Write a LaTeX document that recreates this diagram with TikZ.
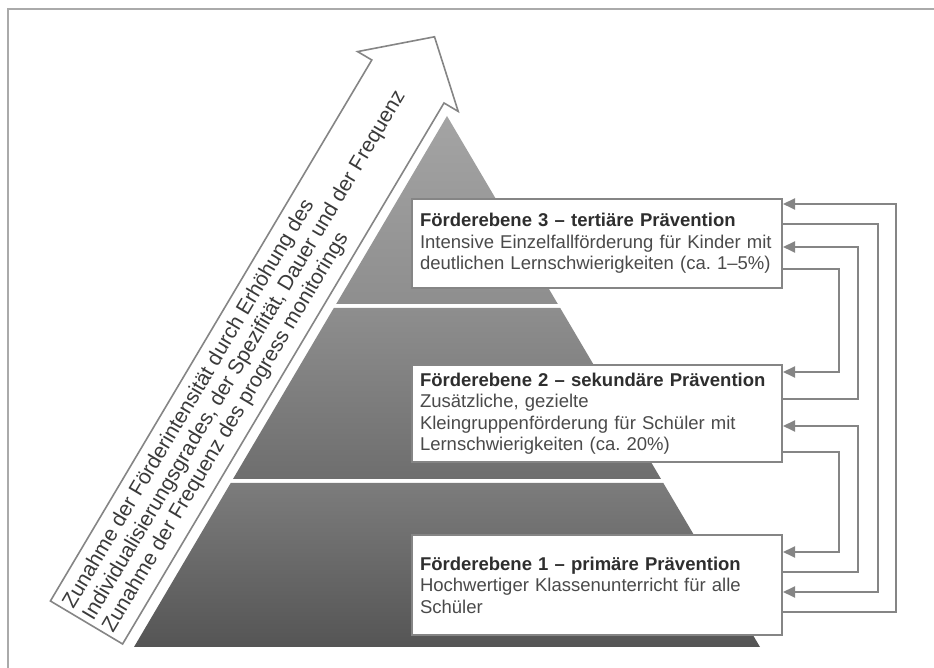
\documentclass[tikz,border=0pt]{standalone}
\usepackage{fontspec}
\setmainfont{Liberation Sans}
\usetikzlibrary{arrows.meta,calc}
\frenchspacing
\definecolor{linegray}{HTML}{858585}
\definecolor{framegray}{HTML}{AAAAAA}
\definecolor{titlegray}{HTML}{2E2E2E}
\definecolor{bodygray}{HTML}{4A4A4A}
\definecolor{arrowtext}{HTML}{3A3A3A}
\definecolor{tthreea}{HTML}{A4A4A4}
\definecolor{tthreeb}{HTML}{8E8E8E}
\definecolor{ttwoa}{HTML}{8E8E8E}
\definecolor{ttwob}{HTML}{6E6E6E}
\definecolor{tonea}{HTML}{7C7C7C}
\definecolor{toneb}{HTML}{555555}
\begin{document}
\begin{tikzpicture}[x=1bp,y=1bp,
  box/.style={draw=linegray, line width=2bp, fill=white, text width=354bp,
    inner xsep=8bp, inner ysep=0pt, align=left, text=bodygray,
    font=\fontsize{18.5bp}{21.5bp}\selectfont},
  conn/.style={draw=linegray, line width=2bp, -{Triangle[length=12bp,width=11bp]}},
]
\useasboundingbox (0,0) rectangle (934,668);
% frame
\draw[framegray, line width=2bp] (8,0) -- (8,659) -- (934,659);
% pyramid tiers
\shade[top color=tthreea, bottom color=tthreeb] (447,552) -- (557.8,364) -- (336.2,364) -- cycle;
\shade[top color=ttwoa, bottom color=ttwob] (333.8,360) -- (560.2,360) -- (661,189) -- (233,189) -- cycle;
\shade[top color=tonea, bottom color=toneb] (230.7,185) -- (663.3,185) -- (760,21) -- (134,21) -- cycle;
% big arrow
\draw[draw=linegray, line width=1.6bp, fill=white, line join=miter]
  (50.4,67) -- (122.6,24) -- (444,565) -- (458.2,556.6) -- (434.5,631.2)
  -- (357.6,616.4) -- (371.8,608) -- cycle;
\node[rotate=59.3, anchor=west, align=left, inner sep=0pt, text=arrowtext,
  font=\fontsize{21bp}{23bp}\selectfont] (atext) at (88.5,49)
  {Zunahme der Förderintensität durch Erhöhung des\\
   Individualisierungsgrades, der Spezifität, Dauer und der Frequenz\\
   Zunahme der Frequenz des progress monitorings};
% boxes
\node[box, minimum height=89bp] (b3) at (597,424.5)
  {{\bfseries\color{titlegray}Förderebene 3 – tertiäre Prävention}\\
   Intensive Einzelfallförderung für Kinder mit\\
   deutlichen Lernschwierigkeiten (ca. 1–5\%)};
\node[box, minimum height=97bp] (b2) at (597,254.5)
  {{\bfseries\color{titlegray}Förderebene 2 – sekundäre Prävention}\\
   Zusätzliche, gezielte\\
   Kleingruppenförderung für Schüler mit\\
   Lernschwierigkeiten (ca. 20\%)};
\node[box, minimum height=100bp] (b1) at (597,83)
  {{\bfseries\color{titlegray}Förderebene 1 – primäre Prävention}\\
   Hochwertiger Klassenunterricht für alle\\
   Schüler};
% connectors
\draw[conn] ($(b3.north east)+(0,-26)$) -- ++(95,0) |- ($(b1.north east)+(0,-58)$);
\draw[conn] ($(b3.north east)+(0,-71)$) -- ++(56,0) |- ($(b2.north east)+(0,-8)$);
\draw[conn] ($(b2.north east)+(0,-35)$) -- ++(75,0) |- ($(b3.north east)+(0,-49)$);
\draw[conn] ($(b2.north east)+(0,-88)$) -- ++(56,0) |- ($(b1.north east)+(0,-18)$);
\draw[conn] ($(b1.north east)+(0,-38)$) -- ++(75,0) |- ($(b2.north east)+(0,-62)$);
\draw[conn] ($(b1.north east)+(0,-78)$) -- ++(113,0) |- ($(b3.north east)+(0,-6)$);
\end{tikzpicture}
\end{document}
